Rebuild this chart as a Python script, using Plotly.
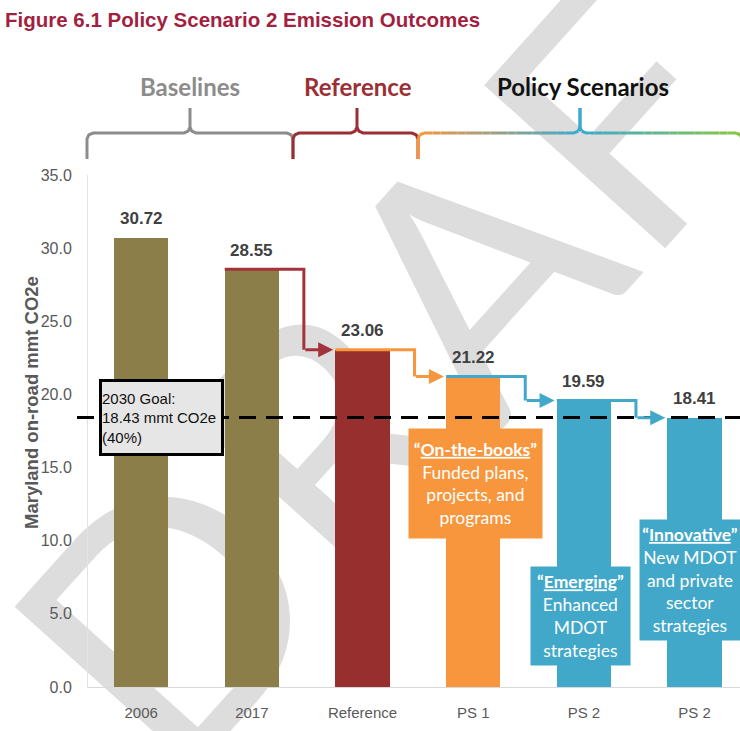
import plotly.graph_objects as go

# data
categories = ["2006", "2017", "Reference", "PS 1", "PS 2", "PS 2"]
emissions = [30.72, 28.55, 23.06, 21.22, 19.59, 18.41]
bar_colors = ["#8C7E49", "#8C7E49", "#962F2E", "#F7963C", "#42A8C9", "#42A8C9"]
step_colors = ["#A3333A", "#F7963C", "#42A8C9", "#42A8C9"]
goal = 18.43
goal_text = "2030 Goal:<br>18.43 mmt CO2e<br>(40%)"
group_names = ["Baselines", "Reference", "Policy Scenarios"]
group_colors = ["#8C8C8C", "#9B2F35", "#111111"]
box_texts = [
    "<b>“<u>On-the-books</u>”</b><br>Funded plans,<br>projects, and<br>programs",
    "<b>“<u>Emerging</u>”</b><br>Enhanced<br>MDOT<br>strategies",
    "<b>“<u>Innovative</u>”</b><br>New MDOT<br>and private<br>sector<br>strategies",
]

W, H = 740, 731
L, R, T, B = 88, 0, 175, 44
BW = 0.49      # bar width
DROP = 0.47    # where the step line turns down


def px_x(p):
    return (p - L) / (W - L - R)


def px_y(p):
    return (H - B - p) / (H - T - B)


SANS = "Liberation Sans, Arial, sans-serif"
xs = list(range(len(categories)))

fig = go.Figure()

# watermark
fig.add_shape(type="rect", xref="paper", yref="paper",
              x0=px_x(435), x1=px_x(445), y0=px_y(300), y1=px_y(290),
              line_width=0, fillcolor="rgba(0,0,0,0)", layer="below",
              label=dict(text="DRAFT", textangle=-48, textposition="middle center",
                         font=dict(size=340, color="#DDDDDD", family="Lato")))

fig.add_trace(go.Bar(x=xs, y=emissions, width=BW, marker_color=bar_colors,
                     marker_line_width=0, hoverinfo="skip", showlegend=False))

# step lines + arrows between bars
for i in range(1, len(emissions) - 1):
    col = step_colors[i - 1]
    fig.add_trace(go.Scatter(
        x=[i - BW / 2, i + DROP, i + DROP],
        y=[emissions[i], emissions[i], emissions[i + 1]],
        mode="lines", line=dict(color=col, width=3),
        hoverinfo="skip", showlegend=False))
    fig.add_annotation(x=i + 1 - BW / 2 - 0.02, y=emissions[i + 1],
                       ax=i + DROP, ay=emissions[i + 1],
                       xref="x", yref="y", axref="x", ayref="y",
                       text="", showarrow=True, arrowhead=2, arrowsize=1,
                       arrowwidth=3, arrowcolor=col, standoff=0, startstandoff=0)

# value labels
for x, v in zip(xs, emissions):
    fig.add_annotation(x=x, y=v, text="<b>%.2f</b>" % v, showarrow=False,
                       yshift=19, font=dict(family=SANS, size=17, color="#404040"))

# goal line + box
fig.add_shape(type="line", xref="paper", yref="y", x0=px_x(77), x1=1,
              y0=goal, y1=goal, line=dict(color="black", width=3, dash="17px,10px"))
fig.add_annotation(x=px_x(161), xref="paper", y=goal, yref="y",
                   xanchor="center", yanchor="middle",
                   text=goal_text, showarrow=False, align="left",
                   width=119, height=71, bgcolor="#E6E6E6",
                   bordercolor="black", borderwidth=3, borderpad=0,
                   font=dict(family=SANS, size=15, color="#111111"))

# scenario description boxes (center px x, center px y, w, h)
box_geom = [(475, 483, 133, 109), (580, 616, 99, 98), (690, 580, 100, 120)]
box_cols = [bar_colors[3], bar_colors[4], bar_colors[5]]
for txt, (cx, cy, bw, bh), col in zip(box_texts, box_geom, box_cols):
    fig.add_annotation(x=px_x(cx), y=px_y(cy), xref="paper", yref="paper",
                       xanchor="center", yanchor="middle",
                       text=txt, showarrow=False, align="center",
                       width=bw, height=bh, bgcolor=col, borderpad=0,
                       font=dict(family="Lato", size=17.5, color="white"))


# braces above the chart
def hexrgb(h):
    h = h.lstrip("#")
    return tuple(int(h[k:k + 2], 16) for k in (0, 2, 4))


def mix(c1, c2, t):
    a, b = hexrgb(c1), hexrgb(c2)
    return "rgb(%d,%d,%d)" % tuple(round(a[k] + (b[k] - a[k]) * t) for k in range(3))


def brace_points(x0, x1, xm, top=108, mid=133, bot=159, r=6):
    pts = [(x0, bot), (x0, mid + r), (x0 + r * 0.3, mid + r * 0.3), (x0 + r, mid),
           (xm - r, mid), (xm - r * 0.3, mid - r * 0.3), (xm, mid - r), (xm, top),
           (xm, mid - r), (xm + r * 0.3, mid - r * 0.3), (xm + r, mid),
           (x1 - r, mid), (x1 - r * 0.3, mid + r * 0.3), (x1, mid + r), (x1, bot)]
    return pts


braces = [(87, 293, 190), (293, 418, 357), (418, 742, 580)]
for k, (x0, x1, xm) in enumerate(braces):
    pts = brace_points(x0, x1, xm)
    if k < 2:
        path = "M" + " L".join("%f,%f" % (px_x(a), px_y(b)) for a, b in pts)
        fig.add_shape(type="path", xref="paper", yref="paper", path=path,
                      line=dict(color=group_colors[k], width=3))
    else:
        # gradient: orange -> blue -> green
        seg = []
        for (a1, b1), (a2, b2) in zip(pts[:-1], pts[1:]):
            n = max(1, int(abs(a2 - a1) / 8))
            for j in range(n):
                seg.append((a1 + (a2 - a1) * j / n, b1 + (b2 - b1) * j / n,
                            a1 + (a2 - a1) * (j + 1) / n, b1 + (b2 - b1) * (j + 1) / n))
        for a1, b1, a2, b2 in seg:
            xc = (a1 + a2) / 2
            if xc <= xm:
                c = mix("#F7963C", "#3AAAD0", (xc - x0) / (xm - x0))
            else:
                c = mix("#3AAAD0", "#8CC63F", (xc - xm) / (x1 - xm))
            fig.add_shape(type="line", xref="paper", yref="paper",
                          x0=px_x(a1), y0=px_y(b1), x1=px_x(a2), y1=px_y(b2),
                          line=dict(color=c, width=3))

for name, col, cx in zip(group_names, group_colors, [190, 358, 583]):
    fig.add_annotation(x=px_x(cx), y=px_y(86), xref="paper", yref="paper",
                       xanchor="center", yanchor="middle",
                       text="<b>%s</b>" % name, showarrow=False,
                       font=dict(family="Lato", size=24, color=col))

# y axis title
fig.add_annotation(x=px_x(31), y=px_y(403), xref="paper", yref="paper",
                   xanchor="center", yanchor="middle",
                   text="<b>Maryland on-road mmt CO2e</b>", textangle=-90,
                   showarrow=False,
                   font=dict(family=SANS, size=18.5, color="#595959"))

fig.update_layout(
    width=W, height=H,
    margin=dict(l=L, r=R, t=T, b=B),
    paper_bgcolor="white", plot_bgcolor="white",
    title=dict(text="<b>Figure 6.1 Policy Scenario 2 Emission Outcomes</b>",
               xref="container", yref="container", x=5 / W, xanchor="left",
               y=1 - 20 / H, yanchor="middle",
               font=dict(family=SANS, size=20.5, color="#A31F3F")),
    bargap=0,
)
fig.update_xaxes(range=[-0.48, 5.41], tickvals=xs, ticktext=categories,
                 showgrid=False, zeroline=False, showline=True, linecolor="#D9D9D9",
                 ticks="", ticklabelstandoff=12,
                 tickfont=dict(family=SANS, size=15, color="#595959"))
fig.update_yaxes(range=[0, 35], tickvals=[0, 5, 10, 15, 20, 25, 30, 35],
                 tickformat=".1f", showgrid=False, zeroline=False,
                 showline=True, linecolor="#E3E3E3", ticks="", ticklabelstandoff=12,
                 tickfont=dict(family=SANS, size=16, color="#595959"))

fig.write_html("out.html", config={"displayModeBar": False},
               post_script="document.body.style.margin='0';"
                           "document.body.style.overflow='hidden';")
